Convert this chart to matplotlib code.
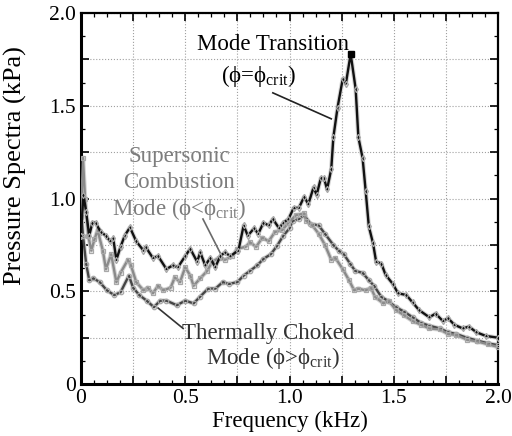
import numpy as np
import matplotlib.pyplot as plt
from matplotlib.ticker import MultipleLocator, FuncFormatter

plt.rcParams['font.family'] = ['Liberation Serif', 'DejaVu Serif']
plt.rcParams['mathtext.fontset'] = 'custom'
plt.rcParams['mathtext.rm'] = 'Liberation Serif'
plt.rcParams['mathtext.it'] = 'Liberation Serif:italic'

# mode transition (phi = phi_crit)
trans_f = [0.0, 0.012, 0.025, 0.04, 0.055, 0.07, 0.095, 0.12, 0.14, 0.155, 0.17, 0.19,
           0.21, 0.235, 0.265, 0.3, 0.31, 0.345, 0.37, 0.41, 0.44, 0.465, 0.5, 0.524,
           0.557, 0.572, 0.596, 0.62, 0.644, 0.668, 0.69, 0.716, 0.755, 0.78, 0.8, 0.83,
           0.85, 0.875, 0.9, 0.92, 0.95, 0.97, 0.995, 1.02, 1.045, 1.07, 1.09, 1.115,
           1.13, 1.15, 1.165, 1.18, 1.2, 1.21, 1.23, 1.255, 1.27, 1.293, 1.317, 1.33,
           1.35, 1.365, 1.38, 1.40, 1.415, 1.44, 1.46, 1.495, 1.52, 1.56, 1.59, 1.62,
           1.67, 1.70, 1.735, 1.76, 1.79, 1.83, 1.86, 1.895, 1.94, 2.0]
trans_p = [0.80, 1.02, 0.93, 0.80, 0.87, 0.87, 0.82, 0.80, 0.77, 0.785, 0.67, 0.74,
           0.80, 0.845, 0.77, 0.72, 0.74, 0.68, 0.69, 0.62, 0.64, 0.63, 0.69, 0.73,
           0.66, 0.71, 0.64, 0.68, 0.63, 0.69, 0.71, 0.69, 0.72, 0.855, 0.80, 0.84,
           0.81, 0.87, 0.855, 0.89, 0.84, 0.87, 0.89, 0.95, 0.95, 1.01, 0.97, 1.06,
           1.02, 1.11, 1.11, 1.05, 1.16, 1.33, 1.49, 1.645, 1.62, 1.78, 1.59, 1.33,
           1.22, 1.04, 0.85, 0.76, 0.66, 0.65, 0.59, 0.54, 0.49, 0.48, 0.44, 0.40,
           0.36, 0.38, 0.34, 0.355, 0.32, 0.30, 0.31, 0.28, 0.26, 0.25]

# supersonic combustion mode (phi < phi_crit)
super_f = [0.0, 0.01, 0.02, 0.035, 0.05, 0.065, 0.08, 0.105, 0.12, 0.145, 0.17, 0.19,
           0.225, 0.24, 0.265, 0.3, 0.32, 0.345, 0.37, 0.395, 0.43, 0.45, 0.475, 0.5,
           0.524, 0.54, 0.572, 0.605, 0.63, 0.66, 0.69, 0.725, 0.75, 0.79, 0.81, 0.84,
           0.87, 0.9, 0.93, 0.965, 0.995, 1.03, 1.07, 1.08, 1.11, 1.14, 1.17, 1.2,
           1.22, 1.255, 1.285, 1.31, 1.33, 1.365, 1.39, 1.41, 1.45, 1.475, 1.51, 1.55,
           1.59, 1.63, 1.67, 1.72, 1.76, 1.80, 1.85, 1.9, 1.95, 2.0]
super_p = [0.9, 1.22, 1.0, 0.80, 0.72, 0.78, 0.83, 0.72, 0.62, 0.70, 0.55, 0.60,
           0.67, 0.64, 0.55, 0.505, 0.52, 0.49, 0.53, 0.505, 0.52, 0.575, 0.55, 0.63,
           0.585, 0.53, 0.57, 0.61, 0.66, 0.68, 0.67, 0.69, 0.73, 0.74, 0.765, 0.74,
           0.79, 0.77, 0.82, 0.83, 0.87, 0.91, 0.92, 0.88, 0.855, 0.81, 0.75, 0.67,
           0.68, 0.62, 0.56, 0.505, 0.515, 0.505, 0.52, 0.47, 0.435, 0.45, 0.40, 0.37,
           0.34, 0.32, 0.30, 0.295, 0.27, 0.265, 0.24, 0.23, 0.215, 0.20]

# thermally choked mode (phi > phi_crit)
choke_f = [0.0, 0.01, 0.025, 0.04, 0.06, 0.09, 0.125, 0.16, 0.19, 0.23, 0.25, 0.28,
           0.315, 0.35, 0.38, 0.41, 0.46, 0.5, 0.54, 0.57, 0.61, 0.645, 0.68, 0.71,
           0.75, 0.78, 0.81, 0.845, 0.875, 0.91, 0.94, 0.97, 1.0, 1.015, 1.045, 1.07,
           1.10, 1.14, 1.17, 1.21, 1.235, 1.26, 1.29, 1.315, 1.35, 1.38, 1.405, 1.44,
           1.47, 1.51, 1.55, 1.59, 1.63, 1.67, 1.72, 1.76, 1.80, 1.85, 1.9, 1.95, 2.0]
choke_p = [0.95, 0.80, 0.65, 0.56, 0.57, 0.55, 0.505, 0.48, 0.495, 0.585, 0.52, 0.48,
           0.45, 0.415, 0.45, 0.45, 0.425, 0.45, 0.435, 0.47, 0.515, 0.515, 0.55, 0.54,
           0.55, 0.585, 0.61, 0.64, 0.675, 0.70, 0.745, 0.80, 0.84, 0.88, 0.89, 0.91,
           0.865, 0.855, 0.81, 0.75, 0.72, 0.70, 0.65, 0.61, 0.60, 0.56, 0.53, 0.47,
           0.45, 0.415, 0.39, 0.36, 0.33, 0.315, 0.30, 0.28, 0.27, 0.25, 0.235, 0.22, 0.21]

peak_f, peak_p = 1.293, 1.78

fig = plt.figure(figsize=(5.12, 4.36), dpi=100)
ax = fig.add_axes([0.158, 0.119, 0.815, 0.851])

# light halo under each trace, then the trace with hollow markers
for f, p, col, mk in [(choke_f, choke_p, '#454545', 'o'),
                      (super_f, super_p, '#8a8a8a', 's'),
                      (trans_f, trans_p, '#111111', 'd')]:
    ax.plot(f, p, color='#d4d4d4', lw=3.2, solid_capstyle='round', zorder=2)
    ax.plot(f, p, color=col, lw=1.7, marker=mk, ms=3.2, mfc='none',
            mec='#a8a8a8', mew=0.9, zorder=3)

ax.plot([peak_f], [peak_p], 's', color='black', ms=5, zorder=4)

ax.set_xlim(0, 2.0)
ax.set_ylim(0, 2.0)
ax.xaxis.set_major_locator(MultipleLocator(0.25))
ax.xaxis.set_minor_locator(MultipleLocator(0.0625))
ax.yaxis.set_major_locator(MultipleLocator(0.25))
ax.yaxis.set_minor_locator(MultipleLocator(0.125))

def half_labels(v, pos):
    if abs(v * 2 - round(v * 2)) > 1e-6:
        return ''
    return '0' if abs(v) < 1e-6 else '%.1f' % v

ax.xaxis.set_major_formatter(FuncFormatter(half_labels))
ax.yaxis.set_major_formatter(FuncFormatter(half_labels))
ax.tick_params(which='both', direction='in', top=True, right=True, labelsize=15.5)
ax.tick_params(which='major', length=6, width=1.2)
ax.tick_params(which='minor', length=3, width=0.9)
ax.grid(True, which='major', ls=':', color='#a0a0a0', lw=0.8)
ax.set_axisbelow(True)
for s in ax.spines.values():
    s.set_linewidth(1.6)
ax.spines['left'].set_linewidth(2.2)
ax.spines['bottom'].set_linewidth(2.2)

ax.set_xlabel('Frequency (kHz)', fontsize=16.5, labelpad=2)
ax.set_ylabel('Pressure Spectra (kPa)', fontsize=19)
ax.yaxis.set_label_coords(-0.128, 0.59)

# annotations with leader lines
phi = 'ϕ'
crit = '$_{\\mathrm{crit}}$'
ax.text(0.92, 1.83, 'Mode Transition', fontsize=16.5, ha='center', va='center')
ax.text(0.85, 1.66, '(' + phi + '=' + phi + crit + ')', fontsize=16.5,
        ha='center', va='center')
ax.plot([0.92, 1.20], [1.57, 1.43], color='#222222', lw=1.2)

sup_col = '#7d7d7d'
ax.text(0.47, 1.225, 'Supersonic', fontsize=16.5, ha='center', va='center', color=sup_col)
ax.text(0.47, 1.085, 'Combustion', fontsize=16.5, ha='center', va='center', color=sup_col)
ax.text(0.47, 0.945, 'Mode (' + phi + '<' + phi + crit + ')', fontsize=16.5,
        ha='center', va='center', color=sup_col)
ax.plot([0.585, 0.68], [0.89, 0.68], color='#6a6a6a', lw=1.2)

ch_col = '#333333'
ax.text(0.9, 0.275, 'Thermally Choked', fontsize=16.5, ha='center', va='center', color=ch_col)
ax.text(0.92, 0.14, 'Mode (' + phi + '>' + phi + crit + ')', fontsize=16.5,
        ha='center', va='center', color=ch_col)
ax.plot([0.37, 0.49], [0.41, 0.30], color='#333333', lw=1.2)

fig.savefig('out.png', dpi=100)
